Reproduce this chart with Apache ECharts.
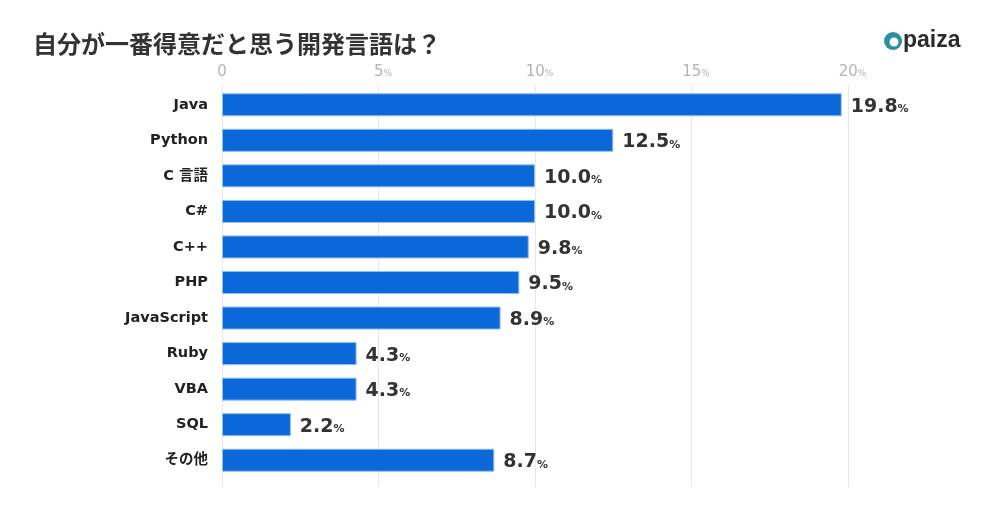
<!DOCTYPE html>
<html>
<head>
<meta charset="utf-8">
<script src="https://cdn.jsdelivr.net/npm/echarts@6/dist/echarts.min.js"></script>
<style>
  html, body { margin: 0; padding: 0; background: #fff; }
  #chart { width: 981px; height: 510px; }
</style>
</head>
<body>
<div id="chart"></div>
<script>
var languages = ['Java', 'Python', 'C 言語', 'C#', 'C++', 'PHP', 'JavaScript', 'Ruby', 'VBA', 'SQL', 'その他'];
var shares = [19.8, 12.5, 10.0, 10.0, 9.8, 9.5, 8.9, 4.3, 4.3, 2.2, 8.7];
var tickValues = [0, 5, 10, 15, 20];

var font = '"DejaVu Sans", "Noto Sans CJK JP", sans-serif';
var cjk = '"Noto Sans CJK JP", sans-serif';
var chart = echarts.init(document.getElementById('chart'), null, {renderer: 'canvas'});

// number centred on the tick, small % trailing
function tickLabel(v) {
    return v === 0 ? '{n|0}' : '{s|}{n|' + v + '}{p|%}';
}

chart.setOption({
    backgroundColor: '#fff',
    animation: false,
    title: {
        text: '自分が一番得意だと思う開発言語は？',
        left: 28,
        top: 27,
        textStyle: { fontFamily: cjk, fontSize: 24, fontWeight: 'bold', color: '#333' }
    },
    graphic: [
        { type: 'circle', shape: { cx: 893, cy: 41, r: 9 }, style: { fill: '#2a8f9e' } },
        { type: 'circle', shape: { cx: 894, cy: 42, r: 4.5 }, style: { fill: '#fff' } },
        { type: 'text', left: 903, top: 29, style: { text: 'paiza', fill: '#2b2b2b', font: 'bold 23px "Liberation Sans", sans-serif' } }
    ],
    grid: [
        { left: 222, right: 133, top: 87, bottom: 32 },
        { left: 222, right: 133, top: 85, bottom: 23 }
    ],
    xAxis: [
        {
            type: 'value', gridIndex: 0, min: 0, max: 20, interval: 5,
            position: 'top',
            axisLine: { show: false }, axisTick: { show: false }, splitLine: { show: false },
            axisLabel: {
                margin: 7,
                formatter: tickLabel,
                rich: {
                    s: { width: 9 },
                    n: { fontFamily: font, fontSize: 15, color: '#b3b3b3' },
                    p: { fontFamily: font, fontSize: 9, color: '#b3b3b3', padding: [3, 0, 0, 0] }
                }
            }
        },
        {
            type: 'value', gridIndex: 1, min: 0, max: 20, interval: 5,
            axisLine: { show: false }, axisTick: { show: false }, axisLabel: { show: false },
            splitLine: { show: true, lineStyle: { color: '#e8e8e8', width: 1 } }
        }
    ],
    yAxis: [
        {
            type: 'category', gridIndex: 0, data: languages, inverse: true,
            axisLine: { show: false }, axisTick: { show: false },
            axisLabel: { margin: 14, padding: [3, 0, 0, 0], fontFamily: font, fontSize: 14.5, fontWeight: 'bold', color: '#222' }
        },
        {
            type: 'category', gridIndex: 1, data: [''], show: false
        }
    ],
    series: [{
        type: 'bar',
        xAxisIndex: 0,
        yAxisIndex: 0,
        data: shares,
        barWidth: 23,
        itemStyle: { color: '#0b68d9', borderColor: '#8fbdf0', borderWidth: 1 },
        label: {
            show: true,
            position: 'right',
            distance: 9,
            offset: [0, 2],
            formatter: function (p) { return '{v|' + p.value.toFixed(1) + '}{p|%}'; },
            rich: {
                v: { fontFamily: font, fontSize: 19, fontWeight: 'bold', color: '#333' },
                p: { fontFamily: font, fontSize: 11, fontWeight: 'bold', color: '#333', padding: [5, 0, 0, 0] }
            }
        }
    }]
});
</script>
</body>
</html>
